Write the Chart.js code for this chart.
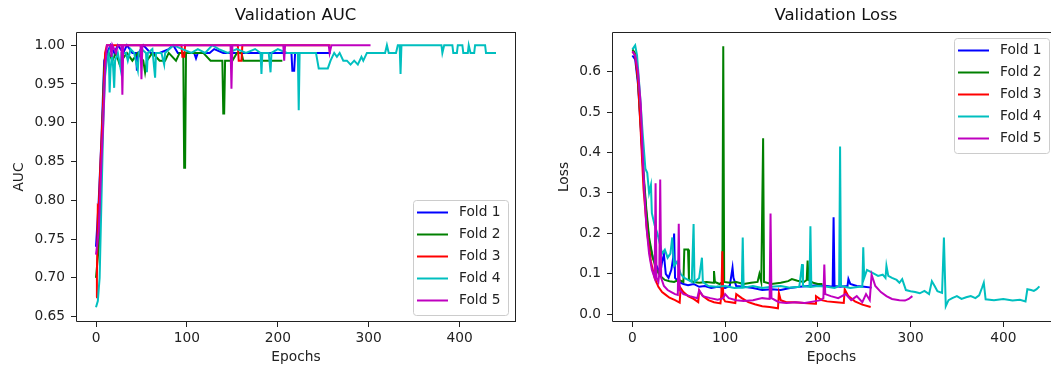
<!DOCTYPE html>
<html>
<head>
<meta charset="utf-8">
<script src="https://cdn.jsdelivr.net/npm/chart.js@4.4.1/dist/chart.umd.min.js"></script>
<style>
  html, body { margin: 0; padding: 0; background: #fff; }
  #auc { position: absolute; left: 0; top: 0; }
  #loss { position: absolute; left: 530px; top: 0; }
</style>
</head>
<body>
<canvas id="auc" width="530" height="371"></canvas>
<canvas id="loss" width="521" height="371"></canvas>
<script>
const foldNames = ['Fold 1', 'Fold 2', 'Fold 3', 'Fold 4', 'Fold 5'];
const foldColors = ['#0000ff', '#008000', '#ff0000', '#00bfbf', '#bf00bf'];
const epochTicks = [0, 100, 200, 300, 400];
const aucTicks = [0.65, 0.70, 0.75, 0.80, 0.85, 0.90, 0.95, 1.00];
const lossTicks = [0.0, 0.1, 0.2, 0.3, 0.4, 0.5, 0.6];

// [epoch, value]
const fold1Auc = [[0,0.74],[3,0.80],[6,0.88],[9,0.98],[12,0.99],[14,0.995],[16,1.0],[20,0.99],[24,1.0],[30,0.99],[34,1.0],[40,0.99],[44,0.99],[45,0.967],[47,0.99],[52,1.0],[60,0.99],[70,0.99],[80,0.995],[85,1.0],[90,0.99],[100,0.99],[108,0.99],[110,0.983],[112,0.99],[125,0.99],[130,0.995],[140,0.99],[160,0.99],[175,0.99],[190,0.99],[215,0.99],[216,0.967],[218,0.967],[219,0.99],[235,0.99],[245,0.99],[258,0.99]];
const fold2Auc = [[0,0.70],[3,0.74],[6,0.85],[9,0.97],[11,0.98],[14,0.99],[18,0.98],[22,0.99],[26,0.975],[28,0.98],[34,0.99],[40,0.98],[46,0.99],[52,0.98],[54,0.965],[56,0.98],[62,0.99],[70,0.98],[76,0.98],[80,0.99],[88,0.98],[92,0.99],[96,0.99],[97,0.842],[98,0.842],[99,0.99],[104,0.99],[110,0.99],[118,0.99],[126,0.98],[134,0.98],[139,0.98],[140,0.912],[141,0.912],[142,0.98],[150,0.98],[155,0.99],[160,0.99],[162,0.98],[175,0.98],[185,0.98],[195,0.98],[205,0.98]];
const fold3Auc = [[0,0.675],[1,0.70],[2,0.792],[3,0.79],[5,0.85],[8,0.93],[10,0.99],[12,1.0],[30,1.0],[60,1.0],[94,1.0],[95,0.985],[97,0.985],[98,1.0],[120,1.0],[156,1.0],[157,0.98],[160,0.98],[161,1.0],[200,1.0],[230,1.0],[258,1.0]];
const fold4Auc = [[0,0.662],[2,0.67],[4,0.70],[6,0.80],[8,0.90],[10,0.96],[12,0.98],[14,0.99],[15,0.939],[16,0.97],[18,0.99],[20,0.945],[21,0.98],[24,0.99],[27,0.97],[28,0.99],[33,0.99],[35,0.98],[38,0.995],[42,0.99],[46,0.968],[47,0.99],[50,0.995],[55,0.99],[56,0.965],[57,0.99],[62,0.995],[65,0.958],[66,0.99],[72,0.99],[75,0.975],[76,0.99],[85,1.0],[95,0.995],[105,0.99],[112,0.995],[120,0.99],[128,1.0],[135,0.995],[145,0.99],[155,0.995],[165,0.99],[175,0.995],[181,0.99],[182,0.963],[183,0.99],[190,0.99],[192,0.965],[193,0.99],[200,0.995],[210,0.99],[222,0.99],[223,0.916],[224,0.99],[235,0.99],[242,0.99],[245,0.97],[255,0.97],[258,0.98],[262,0.99],[265,0.985],[268,0.99],[272,0.98],[276,0.98],[280,0.975],[284,0.98],[288,0.975],[292,0.985],[294,0.98],[298,0.99],[310,0.99],[318,0.99],[320,1.0],[322,0.99],[330,0.99],[332,1.0],[334,1.0],[335,0.963],[336,1.0],[350,1.0],[370,1.0],[380,1.0],[381,0.99],[383,1.0],[392,1.0],[393,0.99],[397,0.99],[398,1.0],[403,1.0],[404,0.99],[409,0.99],[410,1.0],[412,0.99],[416,0.99],[417,1.0],[428,1.0],[429,0.99],[440,0.99]];
const fold5Auc = [[0,0.73],[3,0.76],[6,0.85],[8,0.90],[10,0.97],[12,1.0],[16,1.0],[17,0.985],[18,1.0],[22,0.99],[24,1.0],[28,1.0],[29,0.936],[30,1.0],[40,1.0],[49,1.0],[50,0.956],[51,1.0],[70,1.0],[100,1.0],[148,1.0],[149,0.944],[150,1.0],[180,1.0],[206,1.0],[207,0.98],[208,1.0],[240,1.0],[256,1.0],[257,0.99],[259,1.0],[280,1.0],[302,1.0]];

const fold1Loss = [[0,0.64],[3,0.63],[6,0.57],[9,0.46],[12,0.34],[15,0.25],[18,0.18],[22,0.14],[26,0.12],[30,0.1],[32,0.13],[34,0.148],[36,0.1],[39,0.09],[42,0.11],[44,0.14],[45,0.2],[46,0.09],[50,0.08],[55,0.075],[60,0.072],[66,0.075],[72,0.068],[78,0.07],[85,0.065],[92,0.068],[100,0.065],[105,0.07],[108,0.115],[109,0.09],[112,0.07],[120,0.068],[130,0.065],[140,0.06],[150,0.062],[160,0.06],[170,0.065],[180,0.068],[190,0.07],[200,0.072],[210,0.07],[216,0.068],[217,0.24],[218,0.07],[224,0.068],[232,0.07],[233,0.087],[235,0.075],[242,0.07],[250,0.068],[258,0.066]];
const fold2Loss = [[0,0.655],[3,0.645],[6,0.58],[9,0.47],[12,0.35],[15,0.26],[18,0.19],[22,0.14],[26,0.11],[30,0.095],[35,0.085],[40,0.082],[45,0.08],[50,0.085],[55,0.08],[56,0.16],[60,0.16],[61,0.085],[66,0.08],[72,0.078],[80,0.08],[87,0.078],[88,0.107],[89,0.08],[94,0.075],[97,0.08],[98,0.663],[99,0.08],[105,0.078],[112,0.08],[120,0.075],[128,0.078],[135,0.08],[137,0.1],[139,0.08],[141,0.435],[142,0.08],[150,0.075],[160,0.078],[168,0.082],[172,0.087],[178,0.083],[185,0.08],[188,0.085],[189,0.133],[190,0.085],[195,0.078],[200,0.075],[205,0.075]];
const fold3Loss = [[0,0.65],[3,0.64],[6,0.58],[9,0.45],[12,0.31],[16,0.2],[20,0.13],[24,0.09],[28,0.068],[32,0.055],[36,0.048],[40,0.041],[46,0.035],[51,0.029],[52,0.065],[55,0.055],[60,0.045],[66,0.038],[71,0.03],[72,0.058],[76,0.045],[82,0.035],[88,0.03],[95,0.027],[96,0.05],[97,0.156],[98,0.04],[100,0.032],[106,0.03],[111,0.028],[112,0.05],[118,0.04],[125,0.03],[132,0.025],[140,0.02],[148,0.018],[157,0.015],[158,0.053],[160,0.035],[166,0.03],[175,0.03],[185,0.028],[197,0.026],[198,0.045],[204,0.035],[210,0.032],[220,0.03],[228,0.028],[229,0.062],[233,0.045],[240,0.032],[248,0.024],[257,0.018]];
const fold4Loss = [[0,0.655],[3,0.665],[5,0.64],[8,0.55],[11,0.45],[14,0.36],[16,0.35],[18,0.3],[20,0.32],[21,0.25],[24,0.22],[27,0.2],[30,0.17],[32,0.15],[35,0.16],[38,0.14],[41,0.15],[43,0.19],[45,0.12],[48,0.13],[52,0.1],[56,0.09],[60,0.085],[64,0.08],[66,0.223],[67,0.08],[72,0.09],[75,0.14],[76,0.08],[82,0.07],[90,0.068],[100,0.07],[110,0.065],[118,0.066],[119,0.19],[120,0.066],[130,0.07],[140,0.065],[150,0.068],[160,0.07],[170,0.066],[180,0.068],[183,0.124],[184,0.07],[191,0.068],[192,0.218],[193,0.068],[200,0.07],[210,0.068],[218,0.065],[223,0.07],[224,0.415],[225,0.07],[235,0.065],[245,0.068],[248,0.068],[249,0.166],[250,0.09],[253,0.11],[257,0.105],[261,0.1],[265,0.095],[270,0.098],[273,0.09],[274,0.12],[276,0.095],[280,0.09],[285,0.085],[288,0.078],[291,0.087],[295,0.06],[300,0.057],[305,0.055],[310,0.052],[315,0.058],[320,0.05],[323,0.082],[326,0.07],[329,0.057],[334,0.053],[336,0.19],[338,0.02],[341,0.035],[345,0.04],[350,0.045],[355,0.038],[360,0.042],[365,0.045],[370,0.04],[374,0.047],[377,0.065],[379,0.078],[381,0.037],[390,0.035],[400,0.038],[410,0.034],[418,0.036],[424,0.032],[426,0.062],[430,0.06],[433,0.058],[436,0.062],[439,0.069]];
const fold5Loss = [[0,0.65],[3,0.64],[6,0.6],[9,0.52],[11,0.4],[13,0.3],[15,0.22],[18,0.15],[21,0.11],[24,0.09],[25,0.324],[26,0.09],[28,0.08],[29,0.1],[30,0.333],[31,0.09],[34,0.07],[38,0.06],[42,0.055],[46,0.05],[49,0.048],[50,0.224],[51,0.06],[55,0.05],[62,0.045],[70,0.04],[72,0.06],[76,0.045],[84,0.04],[92,0.036],[98,0.04],[100,0.05],[104,0.04],[112,0.035],[120,0.033],[130,0.035],[140,0.04],[148,0.038],[149,0.249],[150,0.04],[158,0.03],[166,0.028],[176,0.03],[186,0.028],[196,0.032],[203,0.035],[206,0.04],[207,0.123],[208,0.05],[214,0.045],[222,0.04],[230,0.05],[236,0.035],[242,0.045],[248,0.03],[252,0.05],[256,0.035],[258,0.098],[262,0.07],[268,0.055],[274,0.045],[280,0.038],[288,0.035],[294,0.034],[298,0.038],[302,0.045]];

Chart.defaults.font.family = '"DejaVu Sans", sans-serif';
Chart.defaults.color = '#222';

const FONT = 13.75;

// axes box like matplotlib spines
const framePlugin = {
  id: 'frame',
  afterDatasetsDraw(chart, args, opts) {
    const { ctx, chartArea: a } = chart;
    ctx.save();
    ctx.strokeStyle = '#222';
    ctx.lineWidth = 1;
    ctx.beginPath();
    ctx.moveTo(a.right, a.top + 0.5);
    ctx.lineTo(a.left + 0.5, a.top + 0.5);
    ctx.lineTo(a.left + 0.5, a.bottom - 0.5);
    ctx.lineTo(a.right, a.bottom - 0.5);
    if (opts.right) {
      ctx.moveTo(a.right - 0.5, a.top);
      ctx.lineTo(a.right - 0.5, a.bottom);
    }
    ctx.stroke();
    ctx.restore();
  }
};

const titlePlugin = {
  id: 'plotTitle',
  afterDraw(chart, args, opts) {
    const { ctx } = chart;
    const x = chart.scales.x.getPixelForValue(opts.center);
    ctx.save();
    ctx.font = '16.5px "DejaVu Sans"';
    ctx.fillStyle = '#111';
    ctx.textAlign = 'center';
    ctx.textBaseline = 'middle';
    ctx.fillText(opts.text, x, 16);
    ctx.restore();
  }
};

const legendPlugin = {
  id: 'boxLegend',
  afterDraw(chart, args, opts) {
    const { ctx, chartArea: a } = chart;
    const w = 95, h = 115, rowH = 22;
    const x0 = Math.round(a.right - opts.inset - w);
    const y0 = opts.top ? Math.round(a.top + 6) : Math.round(a.bottom - 7 - h);
    ctx.save();
    ctx.fillStyle = 'rgba(255,255,255,0.8)';
    ctx.strokeStyle = '#cccccc';
    ctx.lineWidth = 1;
    ctx.beginPath();
    ctx.roundRect(x0 + 0.5, y0 + 0.5, w, h, 3);
    ctx.fill();
    ctx.stroke();
    ctx.font = FONT + 'px "DejaVu Sans"';
    ctx.textBaseline = 'middle';
    chart.data.datasets.forEach((ds, i) => {
      const y = y0 + 12.5 + i * rowH;
      ctx.strokeStyle = ds.borderColor;
      ctx.lineWidth = 2;
      ctx.beginPath();
      ctx.moveTo(x0 + 4, y);
      ctx.lineTo(x0 + 35, y);
      ctx.stroke();
      ctx.fillStyle = '#222';
      ctx.fillText(ds.label, x0 + 46, y);
    });
    ctx.restore();
  }
};

function makeChart(id, cfg) {
  const datasets = cfg.series.map((s, i) => ({
    label: foldNames[i],
    data: s.map(([x, y]) => ({ x, y })),
    borderColor: foldColors[i],
    backgroundColor: foldColors[i],
    borderWidth: 2,
    pointRadius: 0,
    tension: 0,
    fill: false,
    order: 5 - i,
  }));

  return new Chart(document.getElementById(id), {
    type: 'line',
    data: { datasets },
    plugins: [framePlugin, legendPlugin, titlePlugin],
    options: {
      responsive: false,
      animation: false,
      events: [],
      layout: { padding: { top: 32, right: cfg.rightPad, bottom: 0, left: 0 } },
      plugins: {
        legend: { display: false },
        tooltip: { enabled: false },
        frame: { right: cfg.showRight },
        boxLegend: { inset: cfg.legendInset, top: cfg.legendTop },
        plotTitle: { text: cfg.title, center: 219.5 },
      },
      scales: {
        x: {
          type: 'linear',
          min: -22,
          max: cfg.xMax,
          afterBuildTicks: (scale) => { scale.ticks = epochTicks.map(v => ({ value: v })); },
          afterFit: (scale) => { scale.height = 49; },
          ticks: { autoSkip: false, maxRotation: 0, padding: 3, font: { size: FONT }, color: '#222', callback: v => String(v) },
          grid: { drawOnChartArea: false, drawTicks: true, tickLength: 5, color: '#222' },
          border: { display: false },
          title: { display: true, text: 'Epochs', font: { size: FONT }, color: '#222', padding: { top: 0, bottom: 5 } },
        },
        y: {
          type: 'linear',
          min: cfg.yMin,
          max: cfg.yMax,
          afterBuildTicks: (scale) => { scale.ticks = cfg.yTicks.map(v => ({ value: v })); },
          afterFit: (scale) => { scale.width = cfg.yAxisWidth; },
          ticks: { autoSkip: false, padding: 6, font: { size: FONT }, color: '#222', callback: v => v.toFixed(cfg.decimals) },
          grid: { drawOnChartArea: false, drawTicks: true, tickLength: 5, color: '#222' },
          border: { display: false },
          title: { display: true, text: cfg.yLabel, font: { size: FONT }, color: '#222', padding: { top: cfg.yTitlePad, bottom: 0 } },
        },
      },
    },
  });
}

makeChart('auc', {
  title: 'Validation AUC',
  yLabel: 'AUC',
  series: [fold1Auc, fold2Auc, fold3Auc, fold4Auc, fold5Auc],
  yTicks: aucTicks,
  yMin: 0.643,
  yMax: 1.017,
  decimals: 2,
  xMax: 462,
  yAxisWidth: 76,
  yTitlePad: 11,
  rightPad: 14,
  showRight: true,
  legendInset: 8,
  legendTop: false,
});

makeChart('loss', {
  title: 'Validation Loss',
  yLabel: 'Loss',
  series: [fold1Loss, fold2Loss, fold3Loss, fold4Loss, fold5Loss],
  yTicks: lossTicks,
  yMin: -0.019,
  yMax: 0.698,
  decimals: 1,
  xMax: 451.5,
  yAxisWidth: 82,
  yTitlePad: 26,
  rightPad: 0,
  showRight: false,
  legendInset: 2,
  legendTop: true,
});
</script>
</body>
</html>
